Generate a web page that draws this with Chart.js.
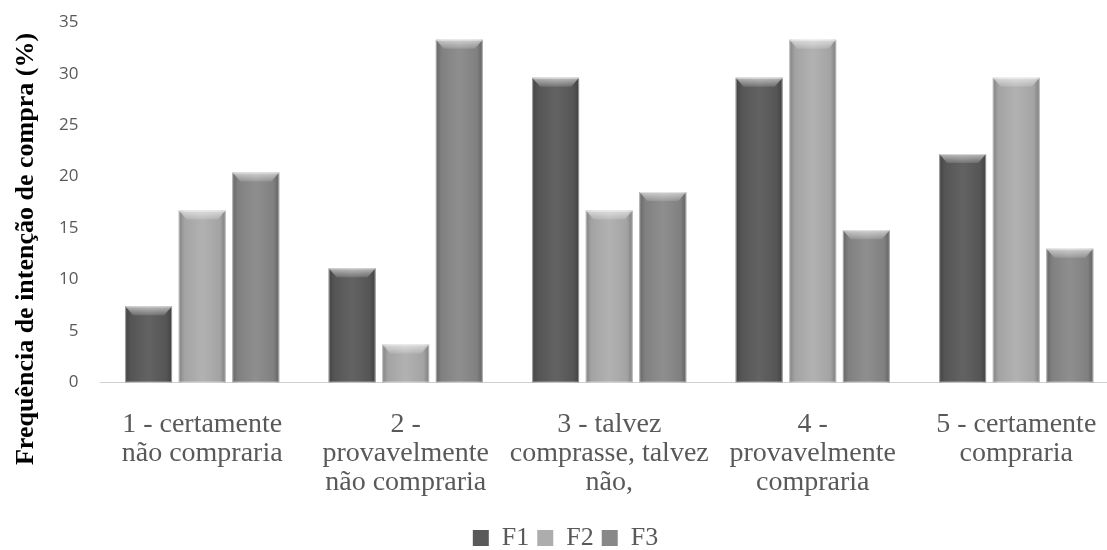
<!DOCTYPE html>
<html>
<head>
<meta charset="utf-8">
<script src="https://cdn.jsdelivr.net/npm/chart.js@4/dist/chart.umd.min.js"></script>
<style>
  body { margin: 0; background: #fff; overflow: hidden; }
  #wrap { width: 1107px; height: 550px; overflow: hidden; }
  #myChart { display: block; margin-top: -2px; }
</style>
</head>
<body>
<div id="wrap"><canvas id="myChart" width="1118" height="563"></canvas></div>
<script>
// categories and series values
let categories = [
    ['1 - certamente', 'não compraria'],
    ['2 -', 'provavelmente', 'não compraria'],
    ['3 - talvez', 'comprasse, talvez', 'não,'],
    ['4 -', 'provavelmente', 'compraria'],
    ['5 - certamente', 'compraria']
];
let f1Values = [7.4, 11.1, 29.6, 29.6, 22.2];
let f2Values = [16.7, 3.7, 16.7, 33.3, 29.6];
let f3Values = [20.4, 33.3, 18.5, 14.8, 13.0];
let yTicks = [0, 5, 10, 15, 20, 25, 30, 35];
let yTitle = 'Frequência de intenção de compra (%)';

// bevel look: shade the sides and light the top of every bar
const bevelPlugin = {
    id: 'bevel',
    afterDatasetsDraw(chart) {
        const c = chart.ctx;
        chart.data.datasets.forEach((ds, i) => {
            chart.getDatasetMeta(i).data.forEach(bar => {
                const left = bar.x - bar.width / 2;
                const right = bar.x + bar.width / 2;
                const top = bar.y;
                const h = bar.base - bar.y;
                c.save();
                let g = c.createLinearGradient(left, 0, right, 0);
                g.addColorStop(0, 'rgba(0,0,0,0.25)');
                g.addColorStop(0.12, 'rgba(0,0,0,0.06)');
                g.addColorStop(0.5, 'rgba(255,255,255,0.05)');
                g.addColorStop(0.88, 'rgba(0,0,0,0.06)');
                g.addColorStop(1, 'rgba(0,0,0,0.28)');
                c.fillStyle = g;
                c.fillRect(left, top, bar.width, h);
                // top bevel
                const b = Math.min(9, h / 2);
                c.beginPath();
                c.moveTo(left, top);
                c.lineTo(right, top);
                c.lineTo(right - 8, top + b);
                c.lineTo(left + 8, top + b);
                c.closePath();
                let tg = c.createLinearGradient(0, top, 0, top + b);
                tg.addColorStop(0, 'rgba(255,255,255,0.6)');
                tg.addColorStop(1, 'rgba(255,255,255,0.12)');
                c.fillStyle = tg;
                c.fill();
                c.strokeStyle = 'rgba(255,255,255,0.45)';
                c.lineWidth = 1;
                c.strokeRect(left + 0.5, top + 0.5, bar.width - 1, h - 1);
                c.restore();
            });
        });
    }
};

// y title drawn by hand so it can sit lower than the axis centre, like the original
// (canvas is shifted up 2px, so 251 here lands at 249 on the page)
const yTitlePlugin = {
    id: 'yTitle',
    afterDraw(chart) {
        const c = chart.ctx;
        c.save();
        c.translate(26, 251);
        c.rotate(-Math.PI / 2);
        c.font = 'bold 26px "Liberation Serif"';
        c.fillStyle = '#000';
        c.textAlign = 'center';
        c.textBaseline = 'middle';
        c.fillText(yTitle, 0, 0);
        c.restore();
    }
};

const ctx = document.getElementById('myChart').getContext('2d');
const purchaseChart = new Chart(ctx, {
    type: 'bar',
    data: {
        labels: categories,
        datasets: [{
            label: 'F1',
            backgroundColor: '#5a5a5a',
            data: f1Values
        }, {
            label: 'F2',
            backgroundColor: '#adadad',
            data: f2Values
        }, {
            label: 'F3',
            backgroundColor: '#888888',
            data: f3Values
        }]
    },
    plugins: [bevelPlugin, yTitlePlugin],
    options: {
        responsive: false,
        animation: false,
        layout: { padding: { top: 0, right: 0, left: 13, bottom: 0 } },
        datasets: {
            bar: { categoryPercentage: 0.79, barPercentage: 0.875 }
        },
        plugins: {
            legend: {
                position: 'bottom',
                labels: {
                    boxWidth: 16,
                    boxHeight: 16,
                    padding: 8,
                    color: '#595959',
                    font: { family: 'Liberation Serif', size: 26 }
                }
            },
            tooltip: { enabled: false }
        },
        scales: {
            x: {
                grid: { display: false },
                border: { color: '#d0d0d0' },
                ticks: {
                    color: '#595959',
                    maxRotation: 0,
                    autoSkip: false,
                    padding: 20,
                    font: { family: 'Liberation Serif', size: 28, lineHeight: 1.03 }
                }
            },
            y: {
                min: 0,
                max: 35,
                afterBuildTicks(axis) {
                    axis.ticks = yTicks.map(v => ({ value: v }));
                },
                // room for the hand-drawn title, kept inside the axis so the legend stays centred
                afterFit(axis) {
                    axis.width += 32;
                },
                grid: { display: false },
                border: { display: false },
                ticks: {
                    color: '#595959',
                    padding: 14,
                    font: { family: 'Open Sans', size: 17 }
                }
            }
        }
    }
});
</script>
</body>
</html>
